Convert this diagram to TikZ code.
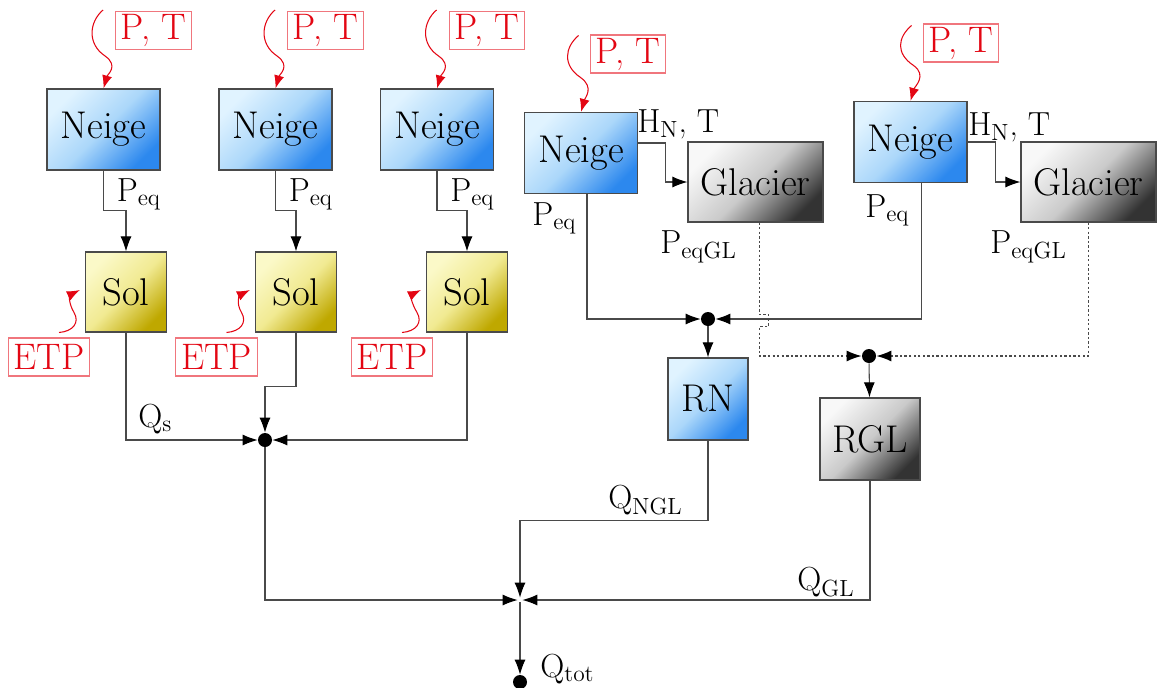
\documentclass[tikz,border=0pt]{standalone}
\usepackage{fontspec}
\usetikzlibrary{calc,arrows.meta,positioning}

\definecolor{neigeA}{HTML}{E0F3FF}
\definecolor{neigeM}{HTML}{ABD7FA}
\definecolor{neigeB}{HTML}{2C88EE}
\definecolor{solA}{HTML}{FBF9C8}
\definecolor{solM}{HTML}{F1EA92}
\definecolor{solB}{HTML}{BFA800}
\definecolor{glA}{HTML}{F8F8F8}
\definecolor{glM}{HTML}{CACACA}
\definecolor{glB}{HTML}{333333}
\definecolor{rouge}{HTML}{E30613}
\definecolor{trait}{HTML}{4A4A4A}

\tikzset{
  bloc/.style={draw=trait, line width=0.7pt, inner sep=0pt,
    font=\fontsize{22}{26}\selectfont},
  neige/.style={bloc, minimum width=2.26cm, minimum height=1.62cm,
    top color=neigeA, bottom color=neigeB, middle color=neigeM, shading angle=45},
  sol/.style={bloc, minimum width=1.62cm, minimum height=1.6cm,
    top color=solA, bottom color=solB, middle color=solM, shading angle=45},
  glacier/.style={bloc, minimum width=2.7cm, minimum height=1.6cm,
    top color=glA, bottom color=glB, middle color=glM, shading angle=45},
  entree/.style={draw=rouge!55, text=rouge, line width=0.6pt,
    font=\fontsize{21}{25}\selectfont, minimum height=0.76cm, inner xsep=3pt, inner ysep=0pt},
  ondule/.style={draw=rouge, line width=0.6pt, -{Latex[length=0.26cm,width=0.2cm]}},
  fl/.style={draw=trait, line width=0.6pt, -{Latex[length=0.3cm,width=0.22cm,black]}},
  pointilles/.style={fl, line width=0.8pt, dash pattern=on 1.3pt off 1.3pt},
  noeud/.style={circle, fill=black, minimum size=0.28cm, inner sep=0pt},
  lbl/.style={font=\fontsize{19}{23}\selectfont, inner sep=0pt, anchor=base west}
}

\begin{document}
\begin{tikzpicture}[x=0.02cm, y=-0.02cm]
\useasboundingbox (0,0) rectangle (1157,687);

% jonctions
\node[noeud] (j1) at (265,440) {};
\node[circle, minimum size=0.08cm, inner sep=0pt] (j2) at (520,600) {};
\node[noeud] (j3) at (708,319) {};
\node[noeud] (j4) at (869,356) {};
\node[noeud] (qt) at (520,682) {};

% bassins sans glacier
\foreach \i/\nx/\sx/\ex in {1/103.5/126/49, 2/275.5/296/216.5, 3/437/467/392} {
  \node[neige] (n\i) at (\nx,129.5) {Neige};
  \node[entree] (pt\i) at (\nx+50,30.5) {P, T};
  \node[sol] (s\i) at (\sx,292) {Sol};
  \node[entree] (etp\i) at (\ex,357) {ETP};
  \node[lbl] (pq\i) at (\nx+13,201) {P\textsubscript{eq}};
  \draw[ondule] ($(pt\i.north west)+(-12,-1)$) .. controls +(-14,12) and +(-18,-12) .. +(2,46)
    .. controls +(14,10) and +(4,-14) .. (n\i.north);
  \draw[ondule] ($(etp\i.north)+(10,-5)$) .. controls +(14,-1) and +(6,10) .. +(15,-20)
    .. controls +(-6,-10) and +(-10,5) .. ($(s\i.west)+(-5,-2)$);
  \draw[fl] (n\i.south) -- ++(0,40) -| (s\i.north);
}
\draw[fl] (s1.south) |- (j1);
\draw[fl] (s2.south) -- ++(0,54) -| (j1);
\draw[fl] (s3.south) |- (j1);
\node[lbl] (qs) at (138,427) {Q\textsubscript{s}};

% bassins avec glacier
\node[neige] (n4) at (581,153) {Neige};
\node[glacier] (g1) at (755.5,182) {Glacier};
\node[neige] (n5) at (910.5,142) {Neige};
\node[glacier] (g2) at (1088.5,182) {Glacier};
\node[entree] (pt4) at (628,54) {P, T};
\node[entree] (pt5) at (961,43) {P, T};
\draw[ondule] ($(pt4.north west)+(-11,1)$) .. controls +(-14,12) and +(-18,-12) .. +(2,42)
  .. controls +(14,10) and +(4,-14) .. (n4.north);
\draw[ondule] ($(pt5.north west)+(-11,2)$) .. controls +(-14,12) and +(-18,-12) .. +(2,40)
  .. controls +(14,10) and +(4,-14) .. (n5.north);

\node[lbl] (hn4) at (637,132) {H\textsubscript{N}, T};
\node[lbl] (hn5) at (968,135) {H\textsubscript{N}, T};
\node[lbl] (pq4) at (532,225) {P\textsubscript{eq}};
\node[lbl] (pq5) at (865,217) {P\textsubscript{eq}};
\node[lbl] (pgl1) at (660,253) {P\textsubscript{eqGL}};
\node[lbl] (pgl2) at (990,253) {P\textsubscript{eqGL}};

\draw[fl] ($(n4.east)+(0,-10)$) -- ++(27,0) |- (g1);
\draw[fl] (n5.east) -- ++(28,0) |- (g2);
\draw[fl] ($(n4.south)+(6,0)$) |- (j3);
\draw[fl] ($(n5.south)+(11,0)$) |- (j3);
\draw[pointilles] ($(g1.south)+(4,0)$) -- ++(0,92) -- ++(9,0) -- ++(0,12) -- ++(-9,0) |- (j4);
\draw[pointilles] (g2.south) |- (j4);

% reservoirs
\node[neige, minimum width=1.6cm, minimum height=1.64cm] (rn) at (708,399) {RN};
\node[glacier, minimum width=2cm, minimum height=1.64cm] (rgl) at (870,439) {RGL};
\draw[fl] (j3) -- (rn);
\draw[fl] (j4) -- (rgl);

% sortie
\draw[fl] (rn.south) -- ++(0,80) -| (j2);
\draw[fl] (rgl.south) |- (j2);
\draw[fl] (j1) |- (j2);
\draw[fl] (j2) -- (qt);
\node[lbl] (qngl) at (608,508) {Q\textsubscript{NGL}};
\node[lbl] (qgl) at (797,590) {Q\textsubscript{GL}};
\node[lbl] (qtot) at (540,677) {Q\textsubscript{tot}};
\end{tikzpicture}
\end{document}
